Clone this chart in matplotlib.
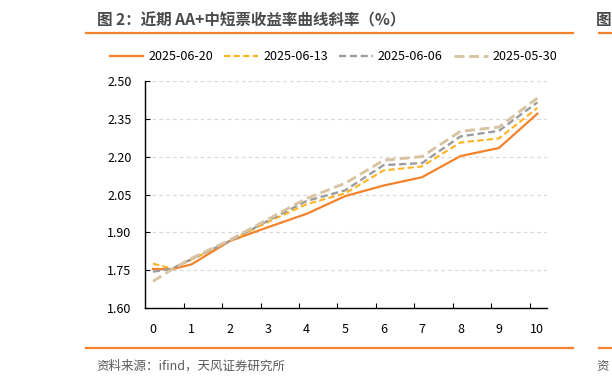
import matplotlib
matplotlib.use("Agg")
import matplotlib.pyplot as plt
from matplotlib.lines import Line2D
import numpy as np

plt.rcParams['font.family'] = ['Noto Sans CJK SC', 'DejaVu Sans']

# term (years)
terms = [0, 0.5, 1, 2, 3, 4, 5, 6, 7, 8, 9, 10]
d0620 = [1.755, 1.754, 1.773, 1.866, 1.921, 1.974, 2.044, 2.086, 2.119, 2.203, 2.235, 2.371]
d0613 = [1.776, 1.756, 1.792, 1.866, 1.942, 2.012, 2.055, 2.146, 2.162, 2.257, 2.273, 2.394]
d0606 = [1.744, 1.756, 1.794, 1.866, 1.947, 2.025, 2.067, 2.167, 2.175, 2.281, 2.303, 2.416]
d0530 = [1.706, 1.754, 1.797, 1.870, 1.953, 2.035, 2.095, 2.186, 2.201, 2.301, 2.318, 2.433]
labels = ['2025-06-20', '2025-06-13', '2025-06-06', '2025-05-30']
yticks = [1.60, 1.75, 1.90, 2.05, 2.20, 2.35, 2.50]

orange = '#F5822A'
fig = plt.figure(figsize=(6.12, 3.84), dpi=100)
ax = fig.add_axes([0.2374, 0.1979, 0.6557, 0.5906])

ax.plot(terms, d0620, color=orange, lw=1.6, label=labels[0])
ax.plot(terms, d0613, color='#FFB21E', lw=1.5, dashes=(3, 1.6), label=labels[1])
ax.plot(terms, d0606, color='#9C9C9C', lw=1.7, dashes=(3, 1.6), label=labels[2])
ax.plot(terms, d0530, color='#D8C4A2', lw=2.1, dashes=(3.4, 1.6), label=labels[3])

ax.set_xlim(-0.2, 10.24)
ax.set_ylim(1.60, 2.50)
ax.set_yticks(yticks)
ax.set_yticklabels(['%.2f' % v for v in yticks])
ax.set_xticks(range(11))
ax.set_xticks(np.arange(0.8, 10, 1.0), minor=True)
ax.tick_params(axis='x', which='major', length=0, pad=11, labelsize=9)
ax.tick_params(axis='x', which='minor', direction='in', length=3.5, width=0.8)
ax.tick_params(axis='y', direction='in', length=3.5, width=0.8, pad=10, labelsize=9)

for s in ['top', 'right']:
    ax.spines[s].set_visible(False)
for s in ['left', 'bottom']:
    ax.spines[s].set_linewidth(1.0)
    ax.spines[s].set_color('black')
ax.yaxis.grid(True, color='#D9D9D9', lw=0.9, dashes=(3, 2.5))
ax.set_axisbelow(True)

fig.legend(loc='center', bbox_to_anchor=(0.545, 0.852), ncol=4, frameon=False,
           fontsize=9, handlelength=2.7, handletextpad=0.4, columnspacing=0.9)

# title and footer
fig.text(0.158, 0.948, '图 2：近期 AA+中短票收益率曲线斜率（%）', fontsize=11.2,
         fontweight='bold', color='#4A4A4A', va='center', ha='left')
fig.add_artist(Line2D([0.140, 0.936], [0.913, 0.913], color=orange, lw=1.6))
fig.add_artist(Line2D([0.140, 0.936], [0.094, 0.094], color=orange, lw=1.6))
fig.text(0.158, 0.047, '资料来源：ifind，天风证券研究所', fontsize=9,
         color='#595959', va='center', ha='left')

# edge of the neighbouring panel
fig.text(0.974, 0.948, '图', fontsize=11.2, fontweight='bold', color='#4A4A4A',
         va='center', ha='left')
fig.add_artist(Line2D([0.978, 1.0], [0.913, 0.913], color=orange, lw=1.6))
fig.add_artist(Line2D([0.978, 1.0], [0.094, 0.094], color=orange, lw=1.6))
fig.text(0.974, 0.047, '资', fontsize=9, color='#595959', va='center', ha='left')

fig.savefig('out.png', dpi=100)
